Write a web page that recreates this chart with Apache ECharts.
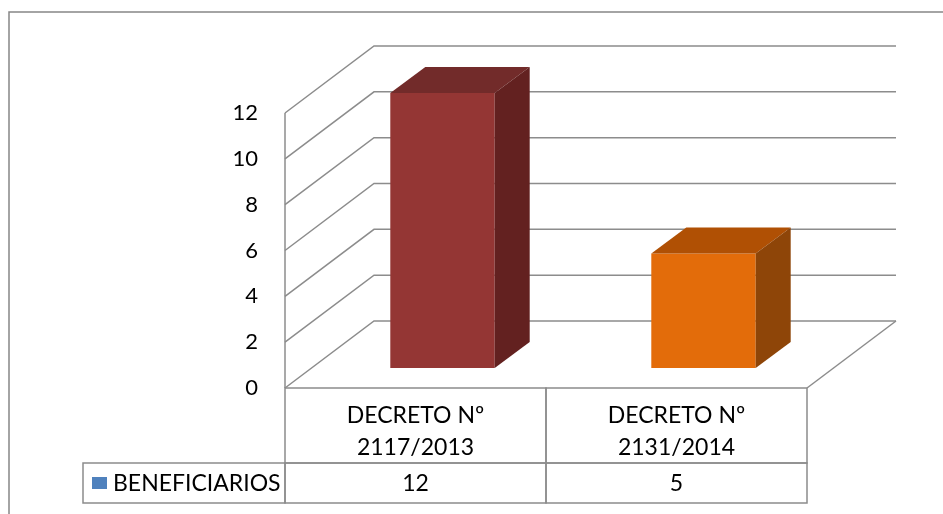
<!DOCTYPE html>
<html>
<head>
<meta charset="utf-8">
<script src="https://cdn.jsdelivr.net/npm/echarts@6/dist/echarts.min.js"></script>
<style>
  html, body { margin: 0; padding: 0; background: #fff; }
  #chart { width: 943px; height: 514px; }
</style>
</head>
<body>
<div id="chart"></div>
<script>
// datos
var categories = ['DECRETO Nº\n2117/2013', 'DECRETO Nº\n2131/2014'];
var beneficiarios = [12, 5];
var yTicks = [0, 2, 4, 6, 8, 10, 12];
var seriesName = 'BENEFICIARIOS';

// estilo
var FONT = '23px Lato, "Open Sans", sans-serif';
var GRID_COLOR = '#8c8c8c';
var barColors = [
    { front: '#943634', top: '#722B2A', side: '#632120' },
    { front: '#E36C0A', top: '#B05004', side: '#8E4508' }
];
var WALL_DX = 89, WALL_DY = 67;     // profundidad de paredes
var BAR_DX = 27, BAR_DY = 20;       // plano frontal de las barras
var DEPTH_DX = 35, DEPTH_DY = 26;   // profundidad de la barra
var BAR_RATIO = 0.40;
var ROW1 = 75, ROW2 = 40, LEGEND_W = 202;

var chart = echarts.init(document.getElementById('chart'));

function renderWalls(params, api) {
    var cs = params.coordSys;
    var v = api.value(1);
    var y = api.coord([0, v])[1];
    var x0 = cs.x, x1 = cs.x + cs.width;
    var line = { stroke: GRID_COLOR, lineWidth: 1.5, fill: null };
    var children = [{
        type: 'polyline',
        shape: { points: [[x0, y], [x0 + WALL_DX, y - WALL_DY], [x1 + WALL_DX, y - WALL_DY]] },
        style: line
    }];
    if (v === 0) {
        children.push({ type: 'line', shape: { x1: x1, y1: y, x2: x1 + WALL_DX, y2: y - WALL_DY }, style: line });
        children.push({ type: 'line', shape: { x1: x0, y1: y, x2: x0, y2: cs.y }, style: line });
    }
    return { type: 'group', children: children };
}

function renderBars(params, api) {
    var i = api.value(0), val = api.value(1);
    var base = api.coord([i, 0]);
    var topP = api.coord([i, val]);
    var w = api.size([1, 0])[0] * BAR_RATIO;
    var xl = base[0] + BAR_DX - w / 2, xr = xl + w;
    var yb = base[1] - BAR_DY, yt = topP[1] - BAR_DY;
    var c = barColors[i];
    return {
        type: 'group',
        children: [
            { type: 'rect', shape: { x: xl, y: yt, width: w, height: yb - yt }, style: { fill: c.front } },
            { type: 'polygon', shape: { points: [[xl, yt], [xl + DEPTH_DX, yt - DEPTH_DY], [xr + DEPTH_DX, yt - DEPTH_DY], [xr, yt]] }, style: { fill: c.top } },
            { type: 'polygon', shape: { points: [[xr, yt], [xr + DEPTH_DX, yt - DEPTH_DY], [xr + DEPTH_DX, yb - DEPTH_DY], [xr, yb]] }, style: { fill: c.side } }
        ]
    };
}

function renderTable(params, api) {
    var i = api.value(0);
    var p = api.coord([i, 0]);
    var band = api.size([1, 0])[0];
    var left = p[0] - band / 2, top = p[1];
    var line = { stroke: GRID_COLOR, lineWidth: 1.5, fill: null };
    var children = [
        { type: 'rect', shape: { x: left, y: top, width: band, height: ROW1 }, style: line },
        { type: 'rect', shape: { x: left, y: top + ROW1, width: band, height: ROW2 }, style: line },
        { type: 'text', style: { text: categories[i], x: p[0], y: top + ROW1 / 2 + 6, align: 'center', verticalAlign: 'middle', font: FONT, lineHeight: 32, fill: '#000' } },
        { type: 'text', style: { text: String(beneficiarios[i]), x: p[0], y: top + ROW1 + ROW2 / 2 + 1, align: 'center', verticalAlign: 'middle', font: FONT, fill: '#000' } }
    ];
    if (i === 0) {
        var lx = left - LEGEND_W;
        children.push(
            { type: 'rect', shape: { x: lx, y: top + ROW1, width: LEGEND_W, height: ROW2 }, style: line },
            { type: 'rect', shape: { x: lx + 9, y: top + ROW1 + 14, width: 15, height: 12 }, style: { fill: '#4F81BD' } },
            { type: 'text', style: { text: seriesName, x: lx + 30, y: top + ROW1 + ROW2 / 2 + 1, align: 'left', verticalAlign: 'middle', font: FONT, fill: '#000' } }
        );
    }
    return { type: 'group', children: children };
}

chart.setOption({
    animation: false,
    backgroundColor: '#fff',
    graphic: [{
        type: 'rect',
        shape: { x: 9, y: 12, width: 1000, height: 600 },
        style: { fill: null, stroke: '#868686', lineWidth: 1.5 },
        silent: true
    }],
    grid: { left: 285, right: 136, top: 113, bottom: 126 },
    xAxis: {
        type: 'category',
        data: categories,
        axisLine: { show: false },
        axisTick: { show: false },
        axisLabel: { show: false },
        splitLine: { show: false }
    },
    yAxis: {
        type: 'value',
        min: 0,
        max: 12,
        interval: 2,
        axisLine: { show: false },
        axisTick: { show: false },
        splitLine: { show: false },
        axisLabel: { margin: 27, color: '#000', fontSize: 22, fontFamily: 'Lato, "Open Sans", sans-serif' }
    },
    series: [
        { type: 'custom', name: 'walls', z: 1, clip: false, silent: true, renderItem: renderWalls,
          data: yTicks.map(function (v) { return [0, v]; }) },
        { type: 'custom', name: seriesName, z: 2, clip: false, renderItem: renderBars,
          data: beneficiarios.map(function (v, i) { return [i, v]; }) },
        { type: 'custom', name: 'table', z: 3, clip: false, silent: true, renderItem: renderTable,
          data: categories.map(function (c, i) { return [i, 0]; }) }
    ]
});
</script>
</body>
</html>
